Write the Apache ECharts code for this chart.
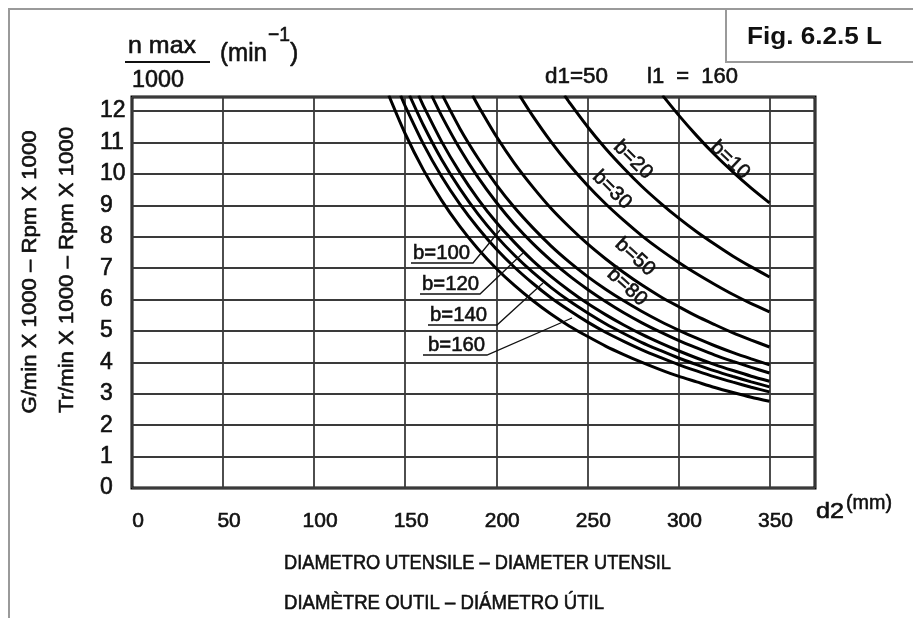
<!DOCTYPE html>
<html>
<head>
<meta charset="utf-8">
<script src="https://cdn.jsdelivr.net/npm/echarts@6/dist/echarts.min.js"></script>
<style>
  html, body { margin: 0; padding: 0; background: #fff; }
  #chart { width: 913px; height: 618px; }
</style>
</head>
<body>
<div id="chart"></div>
<script>
// axes
const xMax = 375
const yMax = 12.45
const xStep = 50
const yStep = 1

// curves n max / 1000 against d2 (mm)
const b10 = [[291.3, 12.5], [300, 11.88], [310, 11.22], [320, 10.61], [330, 10.06], [340, 9.55], [350, 9.08]]
const b20 = [[237.5, 12.5], [240, 12.29], [250, 11.51], [260, 10.81], [270, 10.18], [280, 9.60], [290, 9.08], [300, 8.60], [310, 8.16], [320, 7.76], [330, 7.38], [340, 7.04], [350, 6.72]]
const b30 = [[212.8, 12.5], [220, 11.85], [230, 11.03], [240, 10.30], [250, 9.64], [260, 9.05], [270, 8.52], [280, 8.03], [290, 7.59], [300, 7.19], [310, 6.82], [320, 6.48], [330, 6.16], [340, 5.87], [350, 5.61]]
const b50 = [[187, 12.5], [190, 12.18], [200, 11.20], [210, 10.34], [220, 9.59], [230, 8.91], [240, 8.32], [250, 7.78], [260, 7.30], [270, 6.86], [280, 6.46], [290, 6.10], [300, 5.78], [310, 5.47], [320, 5.20], [330, 4.94], [340, 4.71], [350, 4.49]]
const b80 = [[170.5, 12.5], [180, 11.45], [190, 10.50], [200, 9.66], [210, 8.93], [220, 8.29], [230, 7.71], [240, 7.20], [250, 6.74], [260, 6.33], [270, 5.96], [280, 5.62], [290, 5.31], [300, 5.03], [310, 4.77], [320, 4.53], [330, 4.31], [340, 4.11], [350, 3.92]]
const bUnlabeled = [[164.5, 12.5], [170, 11.85], [180, 10.80], [190, 9.89], [200, 9.10], [210, 8.40], [220, 7.79], [230, 7.25], [240, 6.76], [250, 6.33], [260, 5.94], [270, 5.58], [280, 5.26], [290, 4.97], [300, 4.70], [310, 4.46], [320, 4.23], [330, 4.03], [340, 3.84], [350, 3.66]]
const b100 = [[157.4, 12.5], [160, 12.17], [170, 11.03], [180, 10.05], [190, 9.20], [200, 8.46], [210, 7.82], [220, 7.24], [230, 6.74], [240, 6.29], [250, 5.88], [260, 5.52], [270, 5.19], [280, 4.89], [290, 4.62], [300, 4.37], [310, 4.14], [320, 3.93], [330, 3.74], [340, 3.56], [350, 3.40]]
const b120 = [[152.4, 12.5], [160, 11.55], [170, 10.46], [180, 9.53], [190, 8.72], [200, 8.02], [210, 7.41], [220, 6.87], [230, 6.39], [240, 5.96], [250, 5.58], [260, 5.23], [270, 4.92], [280, 4.63], [290, 4.38], [300, 4.14], [310, 3.93], [320, 3.73], [330, 3.55], [340, 3.38], [350, 3.22]]
const b140 = [[147.5, 12.5], [150, 12.16], [160, 10.95], [170, 9.92], [180, 9.04], [190, 8.28], [200, 7.61], [210, 7.03], [220, 6.52], [230, 6.06], [240, 5.66], [250, 5.29], [260, 4.96], [270, 4.67], [280, 4.40], [290, 4.16], [300, 3.93], [310, 3.73], [320, 3.54], [330, 3.37], [340, 3.21], [350, 3.06]]
const b160 = [[141, 12.5], [150, 11.28], [160, 10.13], [170, 9.16], [180, 8.33], [190, 7.61], [200, 6.99], [210, 6.45], [220, 5.97], [230, 5.54], [240, 5.16], [250, 4.83], [260, 4.52], [270, 4.25], [280, 4.00], [290, 3.77], [300, 3.56], [310, 3.38], [320, 3.20], [330, 3.04], [340, 2.89], [350, 2.76]]

const curves = [
  ['b=10', b10], ['b=20', b20], ['b=30', b30], ['b=50', b50], ['b=80', b80],
  ['', bUnlabeled], ['b=100', b100], ['b=120', b120], ['b=140', b140], ['b=160', b160]
]

const FONT = "'Liberation Sans Narrow', 'Liberation Sans', Arial, sans-serif"
const INK = '#111'

// stretch text horizontally so it covers the same width as in the drawing
const measure = document.createElement('canvas').getContext('2d')
function fit(text, font, width) {
  measure.font = font
  return width / measure.measureText(text).width
}

function txt(x, y, text, size, opts) {
  const o = opts || {}
  const font = (o.weight || 'normal') + ' ' + size + 'px ' + FONT
  const align = o.align || 'left'
  return {
    type: 'text',
    x: x,
    y: y,
    rotation: o.rotation || 0,
    scaleX: o.width ? fit(text, font, o.width) : 1,
    z: 100,
    style: {
      text: text,
      font: font,
      fill: INK,
      stroke: o.weight ? null : INK,
      lineWidth: o.weight ? 0 : 0.6,
      align: align,
      verticalAlign: 'middle',
      textAlign: align,
      textVerticalAlign: 'middle'
    }
  }
}

function seg(points, w) {
  return {
    type: 'polyline',
    z: 100,
    shape: { points: points },
    style: { stroke: INK, fill: null, lineWidth: w || 1.3 }
  }
}

const chart = echarts.init(document.getElementById('chart'))

const graphics = [
  // outer frame and figure box
  { type: 'polyline', shape: { points: [[9, 640], [9, 9], [940, 9]] }, style: { stroke: '#9a9a9a', fill: null, lineWidth: 2 } },
  { type: 'polyline', shape: { points: [[726, 9], [726, 62], [940, 62]] }, style: { stroke: '#9a9a9a', fill: null, lineWidth: 2 } },
  txt(747, 37, 'Fig. 6.2.5 L', 24, { weight: 'bold', width: 135 }),

  // unit header
  txt(128, 46, 'n max', 24, { width: 68 }),
  seg([[125, 62], [210, 62]], 2.2),
  txt(132, 80, '1000', 24, { width: 52 }),
  txt(220, 54, '(min', 25, { width: 47 }),
  txt(268, 35, '\u22121', 20, { width: 22 }),
  txt(290, 54, ')', 25, {}),
  txt(545, 77, 'd1=50', 22, { width: 63 }),
  txt(647, 77, 'l1  =  160', 22, { width: 91 }),

  // y titles
  txt(30, 272, 'G/min X 1000 \u2013 Rpm X 1000', 20, { align: 'center', rotation: Math.PI / 2, width: 283 }),
  txt(67, 270, 'Tr/min X 1000 \u2013 Rpm X 1000', 20, { align: 'center', rotation: Math.PI / 2, width: 286 }),

  // x unit and titles
  txt(816, 512, 'd2', 22, { width: 28 }),
  txt(846, 503, '(mm)', 21, { width: 46 }),
  txt(284, 563, 'DIAMETRO UTENSILE \u2013 DIAMETER UTENSIL', 21, { width: 387 }),
  txt(284, 603, 'DIAM\u00c8TRE OUTIL \u2013 DI\u00c1METRO \u00daTIL', 21, { width: 320 }),

  // labels along the curves
  txt(730, 160, 'b=10', 20, { align: 'center', rotation: -0.76, width: 46 }),
  txt(633, 160, 'b=20', 20, { align: 'center', rotation: -0.78, width: 46 }),
  txt(612, 190, 'b=30', 20, { align: 'center', rotation: -0.78, width: 46 }),
  txt(635, 257, 'b=50', 20, { align: 'center', rotation: -0.74, width: 46 }),
  txt(627, 287, 'b=80', 20, { align: 'center', rotation: -0.74, width: 46 }),

  // labels with leaders
  txt(413, 253, 'b=100', 21, { width: 57 }),
  seg([[411, 263], [473, 263], [500, 230]]),
  txt(422, 284, 'b=120', 21, { width: 57 }),
  seg([[420, 294], [480, 294], [523, 253]]),
  txt(430, 315, 'b=140', 21, { width: 57 }),
  seg([[428, 325], [497, 325], [543, 283]]),
  txt(428, 345, 'b=160', 21, { width: 57 }),
  seg([[423, 355], [487, 355], [572, 318]])
]

chart.setOption({
  backgroundColor: '#fff',
  animation: false,
  grid: {
    left: 132,
    right: 98,
    top: 97,
    bottom: 130,
    show: true,
    borderColor: '#000',
    borderWidth: 3,
    backgroundColor: 'transparent'
  },
  xAxis: {
    type: 'value',
    min: 0,
    max: xMax,
    interval: xStep,
    axisLine: { show: false },
    axisTick: { show: false },
    splitLine: { lineStyle: { color: '#3a3a3a', width: 1.8 } },
    axisLabel: {
      margin: 23,
      fontSize: 21,
      fontFamily: FONT,
      color: INK,
      textBorderColor: INK,
      textBorderWidth: 0.6,
      padding: [0, 0, 0, 12],
      showMaxLabel: false,
      formatter: (v) => (v % xStep === 0 && v <= 350 ? String(v) : '')
    }
  },
  yAxis: {
    type: 'value',
    min: 0,
    max: yMax,
    interval: yStep,
    axisLine: { show: false },
    axisTick: { show: false },
    splitLine: { lineStyle: { color: '#3a3a3a', width: 1.8 } },
    axisLabel: {
      margin: 32,
      align: 'left',
      fontSize: 23,
      fontFamily: FONT,
      color: INK,
      textBorderColor: INK,
      textBorderWidth: 0.6,
      padding: [0, 0, 8, 0],
      formatter: (v) => (Number.isInteger(v) ? String(v) : '')
    }
  },
  graphic: graphics,
  series: curves.map(([name, data]) => ({
    name: name,
    type: 'line',
    data: data,
    smooth: 0.25,
    showSymbol: false,
    silent: true,
    z: 5,
    lineStyle: { color: '#000', width: 3 }
  }))
})
</script>
</body>
</html>
